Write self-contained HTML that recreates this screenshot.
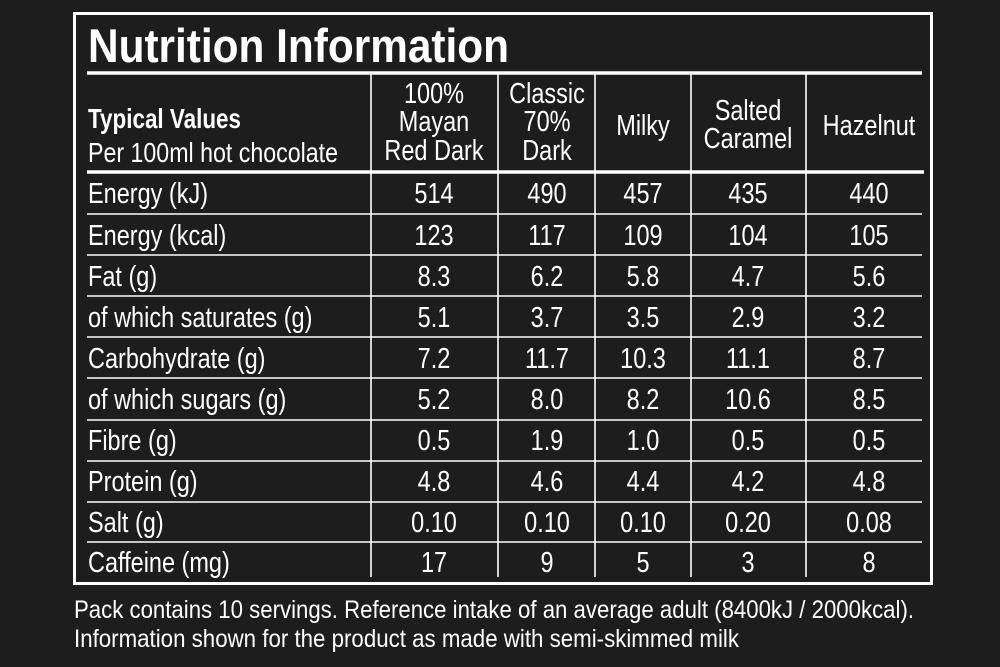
<!DOCTYPE html>
<html><head><meta charset="utf-8"><style>
html,body{margin:0;padding:0;background:#1d1d1d;}
svg{display:block;}
text{fill:#fff;font-family:"Liberation Sans",sans-serif;}
</style></head><body>
<svg width="1000" height="667" viewBox="0 0 1000 667" xmlns="http://www.w3.org/2000/svg">
<rect x="0" y="0" width="1000" height="667" fill="#1d1d1d"/>
<rect x="74.5" y="13.5" width="857" height="570" fill="none" stroke="#fff" stroke-width="3"/>
<text x="88" y="62" font-size="47" font-weight="bold" textLength="421" lengthAdjust="spacingAndGlyphs">Nutrition Information</text>
<line x1="87" y1="73" x2="922" y2="73" stroke="#fff" stroke-width="3.5"/>
<line x1="87" y1="172" x2="924" y2="172" stroke="#fff" stroke-width="3.5"/>
<g stroke="#fff" stroke-width="1.6">
<line x1="87" y1="214" x2="922" y2="214"/>
<line x1="87" y1="255" x2="922" y2="255"/>
<line x1="87" y1="296" x2="922" y2="296"/>
<line x1="87" y1="337" x2="922" y2="337"/>
<line x1="87" y1="378" x2="922" y2="378"/>
<line x1="87" y1="420" x2="922" y2="420"/>
<line x1="87" y1="461" x2="922" y2="461"/>
<line x1="87" y1="502" x2="922" y2="502"/>
<line x1="87" y1="542" x2="922" y2="542"/>
<line x1="371" y1="74" x2="371" y2="577"/>
<line x1="498" y1="74" x2="498" y2="577"/>
<line x1="595" y1="74" x2="595" y2="577"/>
<line x1="691" y1="74" x2="691" y2="577"/>
<line x1="806" y1="74" x2="806" y2="577"/>
</g>
<text x="88" y="128" font-size="28" font-weight="bold" textLength="153" lengthAdjust="spacingAndGlyphs">Typical Values</text>
<text x="88" y="162" font-size="28" textLength="250" lengthAdjust="spacingAndGlyphs">Per 100ml hot chocolate</text>
<g font-size="29" text-anchor="middle">
<g transform="translate(434,0) scale(0.81,1)"><text y="103">100%</text><text y="131">Mayan</text><text y="160">Red Dark</text></g>
<g transform="translate(547,0) scale(0.81,1)"><text y="103">Classic</text><text y="131">70%</text><text y="160">Dark</text></g>
<g transform="translate(643,0) scale(0.81,1)"><text y="135">Milky</text></g>
<g transform="translate(748,0) scale(0.81,1)"><text y="120">Salted</text><text y="148">Caramel</text></g>
<g transform="translate(869,0) scale(0.81,1)"><text y="135">Hazelnut</text></g>
</g>
<g font-size="29" transform="translate(88,0) scale(0.81,1)">
<text x="0" y="203">Energy (kJ)</text>
<text x="0" y="245">Energy (kcal)</text>
<text x="0" y="286">Fat (g)</text>
<text x="0" y="327">of which saturates (g)</text>
<text x="0" y="368">Carbohydrate (g)</text>
<text x="0" y="409">of which sugars (g)</text>
<text x="0" y="450">Fibre (g)</text>
<text x="0" y="491">Protein (g)</text>
<text x="0" y="532">Salt (g)</text>
<text x="0" y="572">Caffeine (mg)</text>
</g>
<g font-size="29" text-anchor="middle">
<g transform="translate(434,0) scale(0.81,1)"><text y="203">514</text><text y="245">123</text><text y="286">8.3</text><text y="327">5.1</text><text y="368">7.2</text><text y="409">5.2</text><text y="450">0.5</text><text y="491">4.8</text><text y="532">0.10</text><text y="572">17</text></g>
<g transform="translate(547,0) scale(0.81,1)"><text y="203">490</text><text y="245">117</text><text y="286">6.2</text><text y="327">3.7</text><text y="368">11.7</text><text y="409">8.0</text><text y="450">1.9</text><text y="491">4.6</text><text y="532">0.10</text><text y="572">9</text></g>
<g transform="translate(643,0) scale(0.81,1)"><text y="203">457</text><text y="245">109</text><text y="286">5.8</text><text y="327">3.5</text><text y="368">10.3</text><text y="409">8.2</text><text y="450">1.0</text><text y="491">4.4</text><text y="532">0.10</text><text y="572">5</text></g>
<g transform="translate(748,0) scale(0.81,1)"><text y="203">435</text><text y="245">104</text><text y="286">4.7</text><text y="327">2.9</text><text y="368">11.1</text><text y="409">10.6</text><text y="450">0.5</text><text y="491">4.2</text><text y="532">0.20</text><text y="572">3</text></g>
<g transform="translate(869,0) scale(0.81,1)"><text y="203">440</text><text y="245">105</text><text y="286">5.6</text><text y="327">3.2</text><text y="368">8.7</text><text y="409">8.5</text><text y="450">0.5</text><text y="491">4.8</text><text y="532">0.08</text><text y="572">8</text></g>
</g>
<g font-size="25">
<text x="74" y="618" textLength="840" lengthAdjust="spacingAndGlyphs">Pack contains 10 servings. Reference intake of an average adult (8400kJ / 2000kcal).</text>
<text x="74" y="647" textLength="665" lengthAdjust="spacingAndGlyphs">Information shown for the product as made with semi-skimmed milk</text>
</g>
</svg>
</body></html>
